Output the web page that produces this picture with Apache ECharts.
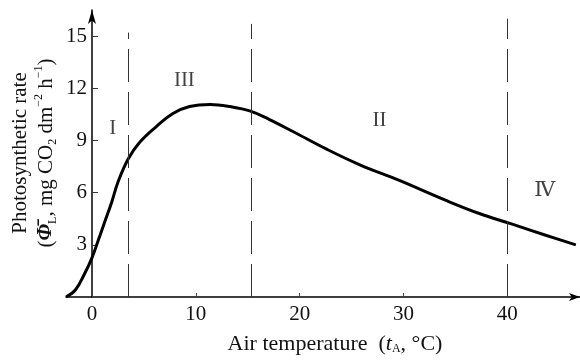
<!DOCTYPE html>
<html>
<head>
<meta charset="utf-8">
<script src="https://cdn.jsdelivr.net/npm/echarts@6/dist/echarts.min.js"></script>
<style>
  html, body { margin: 0; padding: 0; background: #fff; }
  #chart { width: 580px; height: 361px; }
</style>
</head>
<body>
<div id="chart"></div>
<script>
// Photosynthetic rate response to air temperature
var temperature = [-2.5, -1.6, -0.7, 0, 0.6, 1.25, 1.9, 2.5, 3.5, 4.6, 6.2, 7.8, 9.4, 11.4,
                   13.3, 15.2, 17.1, 19.4, 22.6, 25.8, 29.6, 34.1, 37.3, 40.4, 43.7, 46.6];
var rate = [0, 0.4, 1.35, 2.25, 3.25, 4.35, 5.45, 6.6, 7.95, 8.9, 9.8, 10.55, 10.95, 11.07,
            10.95, 10.7, 10.2, 9.5, 8.5, 7.6, 6.7, 5.55, 4.8, 4.2, 3.55, 3.0];

// zone boundaries (°C) and the height each dashed divider reaches
var boundaryTemps = [3.5, 15.3, 40];
var boundaryTops = [15.2, 15.7, 16.0];

// zone names and where they are written
var zoneNames = ['I', 'III', 'II', 'Ⅳ'];
var zoneX = [2.0, 8.9, 27.7, 43.6];
var zoneY = [9.7, 12.45, 10.15, 6.15];

var xTicks = [0, 10, 20, 30, 40];
var yTicks = [3, 6, 9, 12, 15];

var serif = '"Liberation Serif", "DejaVu Serif", serif';

var curve = temperature.map(function (t, i) { return [t, rate[i]]; });
var dividers = boundaryTemps.map(function (t, i) {
  return [{ coord: [t, 0] }, { coord: [t, boundaryTops[i]] }];
});
var zones = zoneNames.map(function (n, i) {
  return { name: n, value: [zoneX[i], zoneY[i]] };
});

var chart = echarts.init(document.getElementById('chart'), null, { renderer: 'canvas' });
chart.setOption({
  animation: false,
  backgroundColor: '#ffffff',
  grid: { left: 66, top: 10, width: 514, height: 287, containLabel: false, outerBoundsMode: 'none' },
  // vertical axis title, two lines, read bottom to top
  graphic: [{
    type: 'text',
    x: 33,
    y: 153,
    rotation: Math.PI / 2,
    silent: true,
    style: {
      text: '{m|Photosynthetic rate}\n{m|(}{phi|Φ̄}{sub|L}{m|, mg CO}{sub|2}{m| dm}{sup|−2}{m| h}{sup|−1}{m|)}',
      align: 'center',
      verticalAlign: 'middle',
      fill: '#111',
      font: '21px ' + serif,
      lineHeight: 26,
      rich: {
        m: { fontFamily: serif, fontSize: 21, lineHeight: 26, fill: '#111' },
        phi: { fontFamily: serif, fontSize: 21, lineHeight: 26, fontStyle: 'italic', fontWeight: 'bold', fill: '#111' },
        sub: { fontFamily: serif, fontSize: 12, lineHeight: 22, verticalAlign: 'bottom', fill: '#111' },
        sup: { fontFamily: serif, fontSize: 12, lineHeight: 12, verticalAlign: 'top', fill: '#111' }
      }
    }
  }],
  xAxis: {
    type: 'value',
    min: -2.5,
    max: 47,
    axisLine: {
      onZero: true,
      symbol: ['none', 'arrow'],
      symbolSize: [6, 11],
      lineStyle: { color: '#000', width: 1.5 }
    },
    axisTick: { show: true, inside: true, length: 4, customValues: xTicks, lineStyle: { color: '#444' } },
    axisLabel: {
      customValues: xTicks,
      margin: 7,
      color: '#111',
      fontFamily: serif,
      fontSize: 21
    },
    splitLine: { show: false },
    name: 'Air temperature  ({it|t}{sub|A}, °C)',
    nameLocation: 'middle',
    nameGap: 36,
    nameTextStyle: {
      color: '#111',
      fontFamily: serif,
      fontSize: 22,
      padding: [0, 0, 0, 24],
      rich: {
        it: { fontFamily: serif, fontStyle: 'italic', fontSize: 22, color: '#111' },
        sub: { fontFamily: serif, fontSize: 12, color: '#111', verticalAlign: 'bottom', lineHeight: 21 }
      }
    }
  },
  yAxis: {
    type: 'value',
    min: 0,
    max: 16.5,
    axisLine: {
      onZero: true,
      symbol: ['none', 'arrow'],
      symbolSize: [6, 14],
      lineStyle: { color: '#000', width: 1.5 }
    },
    axisTick: { show: true, inside: true, length: 6, customValues: yTicks, lineStyle: { color: '#333' } },
    axisLabel: {
      customValues: yTicks,
      // labels sit beside the zero-crossing axis line
      margin: -21,
      color: '#111',
      fontFamily: serif,
      fontSize: 21
    },
    splitLine: { show: false }
  },
  series: [
    {
      type: 'line',
      data: curve,
      smooth: 0.4,
      symbol: 'none',
      lineStyle: { color: '#000', width: 3 },
      markLine: {
        silent: true,
        symbol: ['none', 'none'],
        label: { show: false },
        lineStyle: { type: [33, 10], color: '#333', width: 1 },
        data: dividers
      }
    },
    {
      type: 'scatter',
      data: zones,
      symbolSize: 2,
      itemStyle: { color: 'rgba(0,0,0,0)' },
      silent: true,
      label: {
        show: true,
        position: 'inside',
        formatter: '{b}',
        color: '#111',
        fontFamily: serif,
        fontSize: 21
      }
    }
  ]
});
</script>
</body>
</html>
